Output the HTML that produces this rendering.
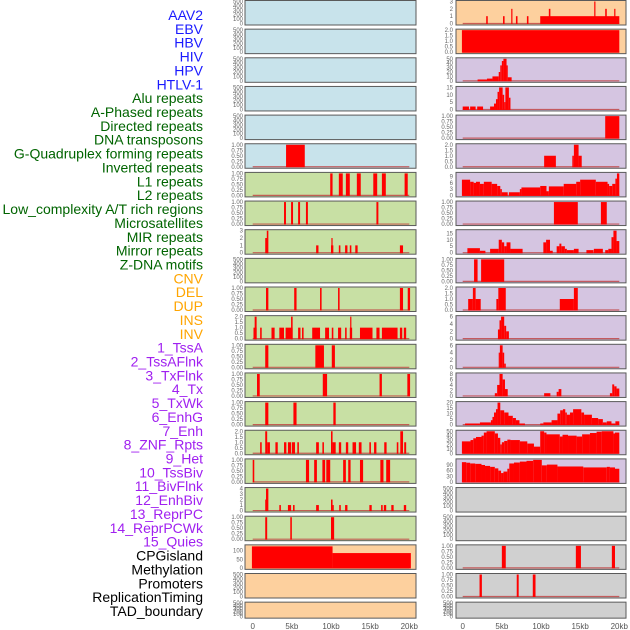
<!DOCTYPE html>
<html><head><meta charset="utf-8"><style>
html,body{margin:0;padding:0;background:#fff;}
svg{display:block;font-family:"Liberation Sans",sans-serif;}
</style></head><body>
<svg id="chart" width="630" height="630" viewBox="0 0 630 630" xmlns="http://www.w3.org/2000/svg">
<g id="labels"></g>
<g id="panels"></g>
<g id="xaxis"></g>
</svg>
<script>
const NS="http://www.w3.org/2000/svg";
const trackLabels=["AAV2","EBV","HBV","HIV","HPV","HTLV-1","Alu repeats","A-Phased repeats","Directed repeats","DNA transposons","G-Quadruplex forming repeats","Inverted repeats","L1 repeats","L2 repeats","Low_complexity A/T rich regions","Microsatellites","MIR repeats","Mirror repeats","Z-DNA motifs","CNV","DEL","DUP","INS","INV","1_TssA","2_TssAFlnk","3_TxFlnk","4_Tx","5_TxWk","6_EnhG","7_Enh","8_ZNF_Rpts","9_Het","10_TssBiv","11_BivFlnk","12_EnhBiv","13_ReprPC","14_ReprPCWk","15_Quies","CPGisland","Methylation","Promoters","ReplicationTiming","TAD_boundary"];
const labelColors=["#1a1aff","#1a1aff","#1a1aff","#1a1aff","#1a1aff","#1a1aff","#006400","#006400","#006400","#006400","#006400","#006400","#006400","#006400","#006400","#006400","#006400","#006400","#006400","#ffa500","#ffa500","#ffa500","#ffa500","#ffa500","#a020f0","#a020f0","#a020f0","#a020f0","#a020f0","#a020f0","#a020f0","#a020f0","#a020f0","#a020f0","#a020f0","#a020f0","#a020f0","#a020f0","#a020f0","#000","#000","#000","#000","#000"];
const xTicks=[0,5,10,15,20];
const xTickLabels=["0","5kb","10kb","15kb","20kb"];

// Left column tracks: [startKb, endKb, value]
const L0=[],L1=[],L2=[],L3=[],L4=[];
const L5=[[4.26,6.65,1]];
const L6=[[9.9,10.2,1],[11.0,11.5,1],[11.9,12.4,1],[13.3,13.8,1],[15.4,15.9,1],[16.5,17.0,1],[19.4,19.8,1]];
const L7=[[4.0,4.25,1],[4.9,5.15,1],[5.8,6.05,1],[6.8,7.05,1],[15.8,16.05,1]];
const L8=[[1.6,1.9,2],[1.8,2.0,3],[8.1,8.4,1],[10.0,10.3,1],[10.05,10.15,2],[11.0,11.2,1],[11.8,12.1,1],[12.4,12.6,1],[13.1,13.4,1],[18.8,19.2,1]];
const L9=[];
const L10=[[1.7,2.0,1],[5.3,5.6,1],[8.6,8.8,1],[10.9,11.1,1],[18.8,19.2,1],[19.8,20.1,1]];
const L11=[[0.1,0.5,1],[0.25,0.5,2],[0.95,1.15,1],[2.4,2.8,1],[3.4,4.0,1],[4.2,5.1,1],[4.9,5.1,2],[5.8,6.1,1],[6.3,6.5,1],[7.6,8.6,1],[9.25,9.75,1],[10.1,10.3,1],[10.9,11.3,1],[11.8,12.0,1],[12.4,12.7,1],[12.45,12.6,2],[13.7,15.3,1],[15.8,16.2,1],[16.5,18.5,1],[18.8,19.1,1],[19.3,19.6,1]];
const L12=[[1.6,2.0,1],[8.0,9.1,1],[10.1,10.5,1]];
const L13=[[0.55,0.9,1],[8.95,9.5,1],[16.2,16.5,1],[19.75,20.1,1]];
const L14=[[1.6,2.0,1],[5.2,5.6,1],[10.3,10.6,1]];
const L15=[[0.95,1.15,1],[1.6,1.85,2],[1.85,2.2,1],[2.9,3.2,1],[4.0,4.3,1],[4.5,4.9,1],[5.0,5.4,1],[5.7,5.9,1],[8.1,8.45,1],[8.9,9.1,1],[10.0,10.2,2],[10.2,10.6,1],[11.0,11.3,1],[11.9,12.2,1],[12.75,13.2,1],[13.55,13.9,1],[14.9,15.1,1],[15.5,15.8,1],[16.8,17.1,1],[18.4,18.6,1],[18.85,19.2,2],[19.35,19.6,1]];
const L16=[[0,0.2,1],[6.8,7.2,1],[7.85,8.2,1],[8.9,9.25,1],[9.4,9.9,1],[11.55,11.9,1],[12.2,12.5,1],[13.7,14.1,1],[16.3,16.7,1],[17.05,17.55,1]];
const L17=[[1.6,1.75,2],[1.7,2.0,4],[3.4,3.6,1],[4.5,4.9,1],[5.15,5.35,1],[8.1,8.45,1],[10.0,10.2,2],[10.2,10.35,1],[11.05,11.25,1],[11.8,12.1,1],[14.9,15.2,1],[16.4,16.6,1],[16.75,17.05,1],[17.7,18.0,1],[19.3,19.6,1]];
const L18=[[1.6,1.85,1],[4.8,5.0,1],[10.0,10.4,1]];
const L19=[[-0.1,10.2,125],[10.2,20.2,86]];
const L20=[],L21=[];

// Right column tracks
const R0=[[3.0,3.2,1],[5.15,5.35,1],[6.2,6.3,2],[6.8,7.0,1],[8.2,8.4,1],[9.9,20.0,1],[11.0,11.2,2],[16.8,16.95,3],[18.2,18.4,2],[19.35,19.5,2]];
const R1=[[-0.1,20.0,2]];
const R2=[[1.9,3.1,3],[3.1,3.8,5],[3.8,4.6,10],[4.6,4.8,20],[4.8,5.0,35],[5.0,5.2,45],[5.2,5.6,50],[5.6,5.75,35],[5.75,6.25,8]];
const R3=[[0,0.8,2],[0.95,1.65,2],[1.85,2.6,2],[3.5,4.0,2],[4.0,4.25,4],[4.25,4.45,7],[4.45,4.65,12],[4.65,5.1,15],[5.1,5.3,10],[5.3,5.45,5],[5.45,5.9,15],[5.9,6.1,8]];
const R4=[[18.2,20.0,1]];
const R5=[[10.4,11.9,1],[14.2,14.8,2],[14.0,14.2,1],[14.8,15.2,1]];
const R6=[[-0.1,0.95,7.5],[0.95,1.4,6.5],[1.4,1.7,6],[1.7,2.2,6.5],[2.2,2.7,5.5],[2.7,3.7,6.5],[3.7,4.4,5.5],[4.4,4.8,4.5],[4.8,5.0,3],[5.0,5.75,1.5],[5.9,7.3,1.5],[7.3,7.5,3],[7.5,9.9,3.8],[9.9,10.7,4.5],[10.7,11.0,2],[11.0,12.9,4.3],[12.9,14.5,5.5],[14.5,15.0,6.5],[15.0,17.0,7.5],[17.0,18.5,6.5],[18.5,18.7,5.5],[18.7,19.1,4.5],[19.1,19.5,5.5],[19.5,19.7,8],[19.7,20.0,10.5]];
const R7=[[11.65,14.7,1],[17.65,18.4,1]];
const R8=[[0.6,2.2,3.5],[2.2,2.9,1.5],[3.5,4.6,3],[4.6,5.0,10],[5.0,5.3,8],[5.3,5.6,5],[5.6,6.1,8],[6.1,7.65,3],[10.3,10.65,8],[10.65,11.15,10],[11.15,11.5,1.5],[12.0,12.35,5],[12.35,12.6,7],[12.6,13.05,5],[13.05,13.3,3],[13.3,14.2,2],[14.2,14.8,3],[15.8,16.7,2],[16.75,17.9,3],[18.2,18.6,2],[18.6,19.0,3],[19.0,19.25,12],[19.25,19.65,17],[19.65,20.0,9]];
const R9=[[1.45,1.9,1],[2.35,5.3,1]];
const R10=[[0.7,1.3,1],[1.3,1.65,2],[1.65,2.3,1],[4.3,4.55,1],[4.55,5.5,2],[12.4,14.2,1],[14.2,14.7,2]];
const R11=[[4.5,4.75,2.5],[4.7,4.9,5],[4.9,5.3,6],[5.3,5.55,3.5],[5.55,5.9,2]];
const R12=[[4.6,4.75,4],[4.75,5.1,6],[5.1,5.3,4],[5.3,5.5,1]];
const R13=[[4.1,4.4,1],[4.4,4.7,4],[4.7,5.1,8],[5.1,5.4,6],[5.4,5.75,2.5],[10.4,11.2,1],[12.0,12.25,1.5],[12.25,12.6,2.5],[18.8,19.1,1],[19.1,19.35,4.2],[19.35,19.65,3.5],[19.65,20.0,2.7]];
const R14=[[0.3,2.2,1],[2.2,3.6,2],[3.6,3.8,4],[3.8,4.0,7],[4.0,4.25,11],[4.25,4.45,14],[4.45,4.8,20],[4.8,5.3,13],[5.3,5.85,11],[5.85,6.4,8],[6.4,6.8,6],[6.8,7.25,4],[7.25,7.95,1],[9.9,10.3,1],[10.3,11.35,2],[11.35,12.1,4],[12.1,12.45,10],[12.45,12.8,13],[12.8,13.1,14],[13.1,13.3,11],[13.3,13.7,9],[13.7,14.1,11],[14.1,15.15,14],[15.15,15.5,11],[15.5,16.5,9],[16.5,17.3,6],[17.3,17.9,5],[17.9,18.4,2],[18.4,19.0,3],[19.0,19.5,1],[19.5,20.0,3]];
const R15=[[-0.1,1.0,27],[1.0,1.35,30],[1.35,1.7,34],[1.7,2.4,37],[2.4,2.7,40],[2.7,3.05,47],[3.05,4.1,50],[4.1,4.5,45],[4.5,4.8,35],[4.8,5.0,20],[5.0,5.3,25],[5.3,5.7,28],[5.7,6.1,31],[6.1,7.3,30],[7.3,8.25,27],[8.25,9.1,22],[9.1,9.9,15],[9.9,10.4,50],[10.4,10.7,47],[10.7,12.4,43],[12.4,12.75,38],[12.75,13.45,42],[13.45,14.55,40],[14.55,15.25,38],[15.25,16.25,43],[16.25,17.1,46],[17.1,17.75,49],[17.75,19.25,50],[19.25,19.45,45],[19.45,20.0,47]];
const R16=[[-0.1,0.45,105],[0.45,0.95,102],[0.95,1.6,98],[1.6,2.4,96],[2.4,2.85,90],[2.85,3.5,85],[3.5,4.1,80],[4.1,4.55,72],[4.55,4.9,60],[4.9,5.2,47],[5.2,5.7,55],[5.7,5.95,70],[5.95,6.55,98],[6.55,7.3,103],[7.3,8.15,108],[8.15,9.0,112],[9.0,10.1,117],[10.1,10.75,88],[10.75,12.1,92],[12.1,15.4,82],[15.4,18.4,77],[18.4,18.8,80],[18.8,19.45,77],[19.45,20.0,70]];
const R17=[],R18=[];
const R19=[[5.0,5.5,1],[14.45,15.1,1],[19.05,19.45,1]];
const R20=[[2.15,2.45,1],[6.9,7.15,1],[8.95,9.3,1]];
const R21=[];

const leftTracks=[L0,L1,L2,L3,L4,L5,L6,L7,L8,L9,L10,L11,L12,L13,L14,L15,L16,L17,L18,L19,L20,L21];
const rightTracks=[R0,R1,R2,R3,R4,R5,R6,R7,R8,R9,R10,R11,R12,R13,R14,R15,R16,R17,R18,R19,R20,R21];
const leftMax=[500,500,500,500,500,1,1,1,3,500,1,2,1,1,1,2,1,4,1,128,500,500];
const rightMax=[3,2,50,15,1,2,10.5,1,17,1,2,6,6,8,20,50,117,500,500,1,1,500];
const leftTickSets=[null,null,null,null,null,"u","u","u",[0,1,2,3],null,"u","h","u","u","u","h","u",[0,1,2,3,4],"u",[0,50,100],null,null];
const rightTickSets=[[0,1,2,3],"h",[0,10,20,30,40,50],[0,5,10,15],"u","h",[0,3,6,9],"u",[0,5,10,15],"u","h",[0,2,4,6],[0,2,4,6],[0,2,4,6,8],[0,5,10,15,20],[0,10,20,30,40,50],[0,30,60,90],null,null,"u","u",null];
const leftBg=i=>i<6?"#c8e3eb":(i<19?"#c8e0a4":"#fdd09e");
const rightBg=i=>i<2?"#fdd09e":(i<17?"#d5c5e1":"#d0d0d0");

const svg=document.getElementById('chart');
function mk(tag,attrs,parent){const e=document.createElementNS(NS,tag);for(const k in attrs)e.setAttribute(k,attrs[k]);parent.appendChild(e);return e;}

// labels
const lg=document.getElementById('labels');
trackLabels.forEach((t,i)=>{
  const e=mk('text',{x:203,y:15+i*13.86+5,'text-anchor':'end','font-size':14,fill:labelColors[i]},lg);
  
  
  e.textContent=t;
});

const pg=document.getElementById('panels');
const cols=[{x0:245,x1:416,zero:252.7,tickX:243,tracks:leftTracks,max:leftMax,ticks:leftTickSets,bg:leftBg,name:'left'},
            {x0:456,x1:626,zero:462.7,tickX:453,tracks:rightTracks,max:rightMax,ticks:rightTickSets,bg:rightBg,name:'right'}];
const pxPerKb=7.83;
cols.forEach(c=>{
  const xs=kb=>c.zero+kb*pxPerKb;
  c.tracks.forEach((data,i)=>{
    const top=i===0?0.5:28.65*i+0.5;
    const h=i===21?16:24.5;
    const bot=top+h;
    const ymax=c.max[i];
    const ys=v=>bot-1.5-(v/ymax)*(h-2.5);
    const g=mk('g',{},pg);
    
    
    mk('rect',{x:c.x0,y:top,width:c.x1-c.x0,height:h,fill:c.bg(i),stroke:'#5a5a5a','stroke-width':1},g);
    // ticks
    let tks=c.ticks[i];let fmt=v=>String(v);
    if(tks===null){tks=[0,100,200,300,400,500];}
    else if(tks==="u"){tks=[0,0.25,0.5,0.75,1];fmt=v=>v.toFixed(2);}
    else if(tks==="h"){tks=[0,0.5,1,1.5,2];fmt=v=>v.toFixed(1);}
    tks.forEach(v=>{
      const t=mk('text',{x:c.tickX,y:ys(v)+2,'text-anchor':'end','font-size':6,fill:'#666'},g);
      
      
      t.textContent=fmt(v);
    });
    if(data.length){
      mk('line',{x1:xs(0),x2:xs(20),y1:bot-1.5,y2:bot-1.5,stroke:'#c04040','stroke-width':1.2,opacity:0.8},g);
    }
    data.forEach(d=>{
      const x=xs(d[0]),w=Math.max(1.2,xs(d[1])-xs(d[0]));
      const y=ys(d[2]);
      const r=mk('rect',{x:x,y:y,width:w,height:bot-1-y,fill:'#ff0000'},g);
      
      
    });
  });
  const xg=document.getElementById('xaxis');
  xTicks.forEach((v,k)=>{
    const t=mk('text',{x:xs(v),y:629,'text-anchor':'middle','font-size':8,fill:'#555'},xg);
    
    
    t.textContent=xTickLabels[k];
  });
});
</script>
</body></html>
